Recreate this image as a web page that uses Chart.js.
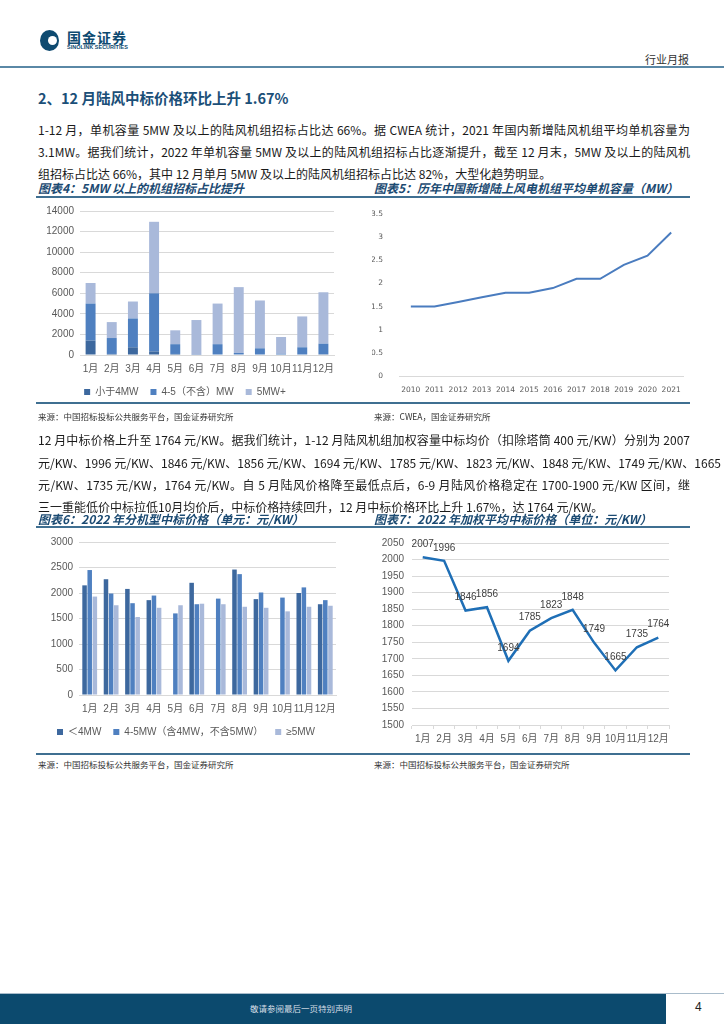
<!DOCTYPE html>
<html>
<head>
<meta charset="utf-8">
<script src="https://cdn.jsdelivr.net/npm/chart.js@4.4.0/dist/chart.umd.min.js"></script>
<style>
  body { margin: 0; background: #fff; }
  #page { position: relative; width: 724px; height: 1024px; overflow: hidden; font-family: "Noto Sans CJK SC", sans-serif; color: #1a1a1a; }
  .abs { position: absolute; }
  .line { position: absolute; left: 38px; width: 652px; font-size: 12px; line-height: 16px; white-space: nowrap; }
  .just { text-align: justify; text-align-last: justify; }
  .ctitle { position: absolute; font-size: 12px; font-weight: bold; font-style: italic; color: #1b4a72; line-height: 16px; }
  .rule { position: absolute; left: 36px; width: 654px; height: 1.5px; background: #3f6f91; }
  .src { position: absolute; font-size: 8.5px; color: #333; line-height: 12px; }
  canvas { position: absolute; }
</style>
</head>
<body>
<div id="page">
  <!-- header -->
  <div class="abs" style="left:40px;top:30px;width:19px;height:21px;border-radius:50%;background:#0e4a70;"></div>
  <div class="abs" style="left:48px;top:36px;width:9px;height:9px;border-radius:50%;background:#fff;"></div>
  <div class="abs" style="left:67px;top:29px;font-size:14px;font-weight:bold;color:#0e4a70;letter-spacing:1px;line-height:16px;">国金证券</div>
  <div class="abs" style="left:67px;top:44px;font-size:5.5px;font-weight:bold;color:#0e4a70;line-height:7px;font-family:'Liberation Sans',sans-serif;">SINOLINK SECURITIES</div>
  <div class="abs" style="left:645px;top:52px;font-size:11px;color:#333;line-height:14px;">行业月报</div>
  <div class="abs" style="left:0;top:66px;width:724px;height:2px;background:#5a88a6;"></div>

  <div class="abs" style="left:38px;top:89px;font-size:14.5px;font-weight:bold;color:#1b4f78;line-height:18px;">2、12 月陆风中标价格环比上升 1.67%</div>

  <div class="line just" style="top:122px;">1-12 月，单机容量 5MW 及以上的陆风机组招标占比达 66%。据 CWEA 统计，2021 年国内新增陆风机组平均单机容量为</div>
  <div class="line just" style="top:144px;">3.1MW。据我们统计，2022 年单机容量 5MW 及以上的陆风机组招标占比逐渐提升，截至 12 月末，5MW 及以上的陆风机</div>
  <div class="line" style="top:166px;">组招标占比达 66%，其中 12 月单月 5MW 及以上的陆风机组招标占比达 82%，大型化趋势明显。</div>

  <div class="ctitle" style="left:38px;top:180px;">图表4：5MW 以上的机组招标占比提升</div>
  <div class="ctitle" style="left:374px;top:180px;">图表5：历年中国新增陆上风电机组平均单机容量（MW）</div>
  <div class="rule" style="top:196px;"></div>

  <canvas id="c4" width="316" height="208" style="left:36px;top:199px;"></canvas>
  <canvas id="c5" width="318" height="202" style="left:372px;top:199px;"></canvas>

  <div class="rule" style="top:402px;"></div>
  <div class="src" style="left:38px;top:410px;">来源：中国招标投标公共服务平台，国金证券研究所</div>
  <div class="src" style="left:374px;top:410px;">来源：CWEA，国金证券研究所</div>

  <div class="line just" style="top:432px;">12 月中标价格上升至 1764 元/KW。据我们统计，1-12 月陆风机组加权容量中标均价（扣除塔筒 400 元/KW）分别为 2007</div>
  <div class="line just" style="top:455px;">元/KW、1996 元/KW、1846 元/KW、1856 元/KW、1694 元/KW、1785 元/KW、1823 元/KW、1848 元/KW、1749 元/KW、1665</div>
  <div class="line just" style="top:477px;">元/KW、1735 元/KW，1764 元/KW。自 5 月陆风价格降至最低点后，6-9 月陆风价格稳定在 1700-1900 元/KW 区间，继</div>
  <div class="line" style="top:499px;">三一重能低价中标拉低10月均价后，中标价格持续回升，12 月中标价格环比上升 1.67%，达 1764 元/KW。</div>

  <div class="ctitle" style="left:38px;top:511px;">图表6：2022 年分机型中标价格（单元：元/KW）</div>
  <div class="ctitle" style="left:374px;top:511px;">图表7：2022 年加权平均中标价格（单位：元/KW）</div>
  <div class="rule" style="top:526px;"></div>

  <canvas id="c6" width="316" height="218" style="left:36px;top:529px;"></canvas>
  <canvas id="c7" width="318" height="224" style="left:372px;top:529px;"></canvas>

  <div class="rule" style="top:753px;"></div>
  <div class="src" style="left:38px;top:758px;">来源：中国招标投标公共服务平台，国金证券研究所</div>
  <div class="src" style="left:374px;top:758px;">来源：中国招标投标公共服务平台，国金证券研究所</div>

  <!-- footer -->
  <div class="abs" style="left:0;top:993px;width:724px;height:1px;background:#a9bccb;"></div>
  <div class="abs" style="left:0;top:994px;width:666px;height:30px;background:#0c4a6e;"></div>
  <div class="abs" style="left:250px;top:1002px;font-size:8.5px;color:#d6dee6;line-height:12px;">敬请参阅最后一页特别声明</div>
  <div class="abs" style="left:695px;top:999px;font-size:12px;color:#222;line-height:16px;font-family:'Liberation Sans',sans-serif;">4</div>
</div>

<script>
// data
const months = ["1月", "2月", "3月", "4月", "5月", "6月", "7月", "8月", "9月", "10月", "11月", "12月"];

// chart 4: bidding volume by unit size (stacked)
const bidSmall = [1400, 100, 750, 350, 100, 0, 0, 50, 0, 0, 0, 80];
const bidMid = [3600, 1550, 2800, 5650, 950, 30, 1050, 150, 650, 120, 750, 1020];
const bidLarge = [2000, 1550, 1650, 6950, 1350, 3370, 3950, 6400, 4650, 1630, 3000, 5000];

// chart 5: avg unit capacity of new onshore turbines (MW)
const years = ["2010", "2011", "2012", "2013", "2014", "2015", "2016", "2017", "2018", "2019", "2020", "2021"];
const unitCap = [1.5, 1.5, 1.6, 1.7, 1.8, 1.8, 1.9, 2.1, 2.1, 2.4, 2.6, 3.1];

// chart 6: bid price by model type
const priceSmall = [2150, 2270, 2080, 1860, null, 2200, null, 2460, 1880, null, 2000, 1780];
const priceMid = [2450, 1990, 1800, 1950, 1600, 1780, 1890, 2370, 2010, 1910, 2110, 1860];
const priceLarge = [1930, 1760, 1530, 1710, 1760, 1790, 1780, 1730, 1710, 1640, 1730, 1750];

// chart 7: weighted average bid price
const avgPrice = [2007, 1996, 1846, 1856, 1694, 1785, 1823, 1848, 1749, 1665, 1735, 1764];

const tickFont = { family: "'Liberation Sans', 'Noto Sans CJK SC', sans-serif", size: 10 };
const tickColor = "#595959";
const gridColor = "#d9d9d9";
const plain = (v) => String(v);

function fixWidth(w) {
  return (axis) => { axis.width = w; };
}

// Chart 4
new Chart(document.getElementById("c4"), {
  type: "bar",
  data: {
    labels: months,
    datasets: [
      { label: "小于4MW", data: bidSmall, backgroundColor: "#3d689e" },
      { label: "4-5（不含）MW", data: bidMid, backgroundColor: "#4f80c0" },
      { label: "5MW+", data: bidLarge, backgroundColor: "#a9b9da" }
    ]
  },
  options: {
    responsive: false,
    animation: false,
    layout: { padding: { top: 7, right: 18, bottom: 0, left: 0 } },
    datasets: { bar: { categoryPercentage: 1, barPercentage: 0.47 } },
    plugins: {
      legend: {
        position: "bottom",
        labels: { boxWidth: 6, boxHeight: 6, padding: 12, color: tickColor, font: tickFont }
      },
      tooltip: { enabled: false }
    },
    scales: {
      x: {
        stacked: true,
        grid: { display: false },
        border: { color: gridColor },
        ticks: { color: tickColor, font: tickFont, padding: 0, maxRotation: 0, autoSkip: false }
      },
      y: {
        stacked: true,
        min: 0, max: 14000,
        afterFit: fixWidth(44),
        grid: { color: gridColor, drawTicks: false },
        border: { display: false },
        ticks: { stepSize: 2000, color: tickColor, font: tickFont, padding: 6, callback: plain }
      }
    }
  }
});

// Chart 5
new Chart(document.getElementById("c5"), {
  type: "line",
  data: {
    labels: years,
    datasets: [{ label: "单机容量", data: unitCap, borderColor: "#4a7cbf", borderWidth: 2, pointRadius: 0, tension: 0 }]
  },
  options: {
    responsive: false,
    animation: false,
    layout: { padding: { top: 15, right: 7, bottom: 4, left: 0 } },
    plugins: { legend: { display: false }, tooltip: { enabled: false } },
    scales: {
      x: {
        offset: true,
        grid: { display: false },
        border: { color: gridColor, dash: [2, 1] },
        ticks: { color: tickColor, font: { family: "'DejaVu Sans', sans-serif", size: 7.5 }, padding: 2, maxRotation: 0, autoSkip: false }
      },
      y: {
        min: 0, max: 3.5,
        afterFit: fixWidth(27),
        grid: { display: false },
        border: { display: false },
        ticks: { stepSize: 0.5, color: tickColor, font: { family: "'DejaVu Sans', sans-serif", size: 7.5 }, padding: 8, callback: plain }
      }
    }
  }
});

// Chart 6
new Chart(document.getElementById("c6"), {
  type: "bar",
  data: {
    labels: months,
    datasets: [
      { label: "＜4MW", data: priceSmall, backgroundColor: "#3d689e" },
      { label: "4-5MW（含4MW，不含5MW）", data: priceMid, backgroundColor: "#4f80c0" },
      { label: "≥5MW", data: priceLarge, backgroundColor: "#a9b9da" }
    ]
  },
  options: {
    responsive: false,
    animation: false,
    layout: { padding: { top: 13, right: 16, bottom: 0, left: 0 } },
    datasets: { bar: { categoryPercentage: 0.72, barPercentage: 0.88 } },
    plugins: {
      legend: {
        position: "bottom",
        labels: { boxWidth: 6, boxHeight: 6, padding: 12, color: tickColor, font: tickFont }
      },
      tooltip: { enabled: false }
    },
    scales: {
      x: {
        grid: { display: false },
        border: { color: gridColor },
        ticks: { color: tickColor, font: tickFont, padding: 0, maxRotation: 0, autoSkip: false }
      },
      y: {
        min: 0, max: 3000,
        afterFit: fixWidth(43),
        grid: { color: gridColor, drawTicks: false },
        border: { display: false },
        ticks: { stepSize: 500, color: tickColor, font: tickFont, padding: 6, callback: plain }
      }
    }
  }
});

// data labels above points for chart 7
const pointLabels = {
  id: "pointLabels",
  afterDatasetsDraw(chart) {
    const ctx = chart.ctx;
    const meta = chart.getDatasetMeta(0);
    ctx.save();
    ctx.font = "10px 'Liberation Sans', sans-serif";
    ctx.fillStyle = "#404040";
    ctx.textAlign = "center";
    ctx.textBaseline = "middle";
    meta.data.forEach((pt, i) => {
      ctx.fillText(String(chart.data.datasets[0].data[i]), pt.x, pt.y - 13);
    });
    ctx.restore();
  }
};

// Chart 7
new Chart(document.getElementById("c7"), {
  type: "line",
  data: {
    labels: months,
    datasets: [{ label: "加权平均中标价格", data: avgPrice, borderColor: "#1f6fb6", borderWidth: 2.5, pointRadius: 0, tension: 0 }]
  },
  options: {
    responsive: false,
    animation: false,
    layout: { padding: { top: 0, right: 21, bottom: 4, left: 0 } },
    plugins: { legend: { display: false }, tooltip: { enabled: false } },
    scales: {
      x: {
        offset: true,
        grid: { display: true, drawOnChartArea: false, offset: true, color: gridColor, tickLength: 4 },
        border: { color: gridColor },
        ticks: { color: tickColor, font: tickFont, padding: 4, maxRotation: 0, autoSkip: false }
      },
      y: {
        min: 1500, max: 2050,
        afterFit: fixWidth(40),
        grid: { color: gridColor, drawTicks: false },
        border: { display: false },
        ticks: { stepSize: 50, color: tickColor, font: tickFont, padding: 8, callback: plain }
      }
    }
  },
  plugins: [pointLabels]
});
</script>
</body>
</html>
